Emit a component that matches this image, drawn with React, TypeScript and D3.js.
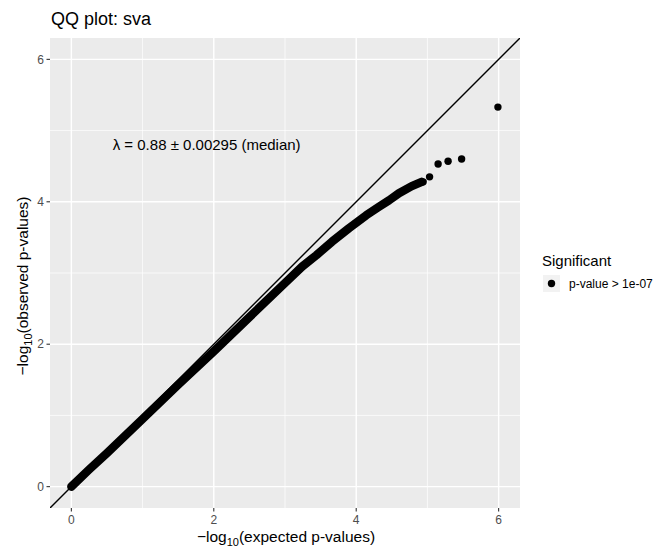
import React from "react";
import * as d3 from "d3";

// ---- data ----
// dense band of points (expected vs observed -log10 p)
const bandExpected = [0, 0.25, 0.5, 1.0, 1.5, 2.0, 2.5, 3.0, 3.24, 3.44, 3.66, 3.9, 4.14, 4.32, 4.46, 4.6, 4.78, 4.92];
const bandObserved = [0, 0.24, 0.47, 0.95, 1.43, 1.9, 2.38, 2.86, 3.09, 3.25, 3.44, 3.63, 3.81, 3.93, 4.02, 4.12, 4.22, 4.28];
// isolated tail points
const tailExpected = [4.94, 5.03, 5.15, 5.29, 5.48, 5.99];
const tailObserved = [4.28, 4.35, 4.53, 4.57, 4.6, 5.33];

const xTicks = [0, 2, 4, 6];
const yTicks = [0, 2, 4, 6];
const minorTicks = [1, 3, 5];

const titleText = "QQ plot: sva";
const legendTitle = "Significant";
const legendLabel = "p-value > 1e-07";

export default function App() {
  const W = 659;
  const H = 547;
  const pl = 50, pr = 520, pt = 38, pb = 508;
  const x = d3.scaleLinear().domain([-0.3, 6.3]).range([pl, pr]);
  const y = d3.scaleLinear().domain([-0.3, 6.3]).range([pb, pt]);

  const bandPts: [number, number][] = bandExpected.map((e, i) => [e, bandObserved[i]]);
  const line = d3
    .line<[number, number]>()
    .x((d) => x(d[0]))
    .y((d) => y(d[1]))
    .curve(d3.curveLinear);

  const font = "'Liberation Sans', Arial, Helvetica, sans-serif";
  const tickColor = "#4d4d4d";

  return (
    <svg
      width={W}
      height={H}
      style={{ position: "absolute", left: 0, top: 0, background: "#fff" }}
      fontFamily={font}
    >
      <defs>
        <clipPath id="panel">
          <rect x={pl} y={pt} width={pr - pl} height={pb - pt} />
        </clipPath>
      </defs>
      <rect x={0} y={0} width={W} height={H} fill="#fff" />
      {/* panel */}
      <rect x={pl} y={pt} width={pr - pl} height={pb - pt} fill="#ebebeb" />
      {minorTicks.map((t) => (
        <g key={"mn" + t}>
          <line x1={x(t)} x2={x(t)} y1={pt} y2={pb} stroke="#fff" strokeWidth={0.7} />
          <line x1={pl} x2={pr} y1={y(t)} y2={y(t)} stroke="#fff" strokeWidth={0.7} />
        </g>
      ))}
      {xTicks.map((t) => (
        <line key={"gx" + t} x1={x(t)} x2={x(t)} y1={pt} y2={pb} stroke="#fff" strokeWidth={1.4} />
      ))}
      {yTicks.map((t) => (
        <line key={"gy" + t} x1={pl} x2={pr} y1={y(t)} y2={y(t)} stroke="#fff" strokeWidth={1.4} />
      ))}

      <g clipPath="url(#panel)">
        {/* points */}
        <path
          d={line(bandPts) || ""}
          fill="none"
          stroke="#000"
          strokeWidth={8.5}
          strokeLinecap="round"
          strokeLinejoin="round"
        />
        {tailExpected.map((e, i) => (
          <circle key={"t" + i} cx={x(e)} cy={y(tailObserved[i])} r={3.7} fill="#000" />
        ))}
        {/* identity line */}
        <line x1={x(-0.3)} y1={y(-0.3)} x2={x(6.3)} y2={y(6.3)} stroke="#000" strokeWidth={1.4} />
      </g>

      {/* annotation */}
      <text x={x(1.9)} y={y(4.8)} dy="0.35em" textAnchor="middle" fontSize={15} fill="#000">
        λ = 0.88 ± 0.00295 (median)
      </text>

      {/* axes */}
      {xTicks.map((t) => (
        <g key={"xt" + t}>
          <line x1={x(t)} x2={x(t)} y1={pb} y2={pb + 3.5} stroke="#333" strokeWidth={1.1} />
          <text x={x(t)} y={pb + 16} textAnchor="middle" fontSize={12} fill={tickColor}>
            {t}
          </text>
        </g>
      ))}
      {yTicks.map((t) => (
        <g key={"yt" + t}>
          <line x1={pl - 3.5} x2={pl} y1={y(t)} y2={y(t)} stroke="#333" strokeWidth={1.1} />
          <text x={pl - 6} y={y(t)} dy="0.35em" textAnchor="end" fontSize={12} fill={tickColor}>
            {t}
          </text>
        </g>
      ))}

      {/* axis titles */}
      <text x={286} y={542} textAnchor="middle" fontSize={15.5} fill="#000">
        −log
        <tspan fontSize={11} dy={4}>10</tspan>
        <tspan dy={-4}>(expected p-values)</tspan>
      </text>
      <text
        transform={`translate(28, 286) rotate(-90)`}
        textAnchor="middle"
        fontSize={15.5}
        fill="#000"
      >
        −log
        <tspan fontSize={11} dy={4}>10</tspan>
        <tspan dy={-4}>(observed p-values)</tspan>
      </text>

      {/* title */}
      <text x={51} y={25} fontSize={18} fill="#000">
        {titleText}
      </text>

      {/* legend */}
      <text x={542} y={266} fontSize={15} fill="#000">
        {legendTitle}
      </text>
      <rect x={543} y={275} width={17} height={17} fill="#f2f2f2" />
      <circle cx={551.5} cy={283.5} r={3.7} fill="#000" />
      <text x={569} y={283.5} dy="0.35em" fontSize={12} fill="#000">
        {legendLabel}
      </text>
    </svg>
  );
}
